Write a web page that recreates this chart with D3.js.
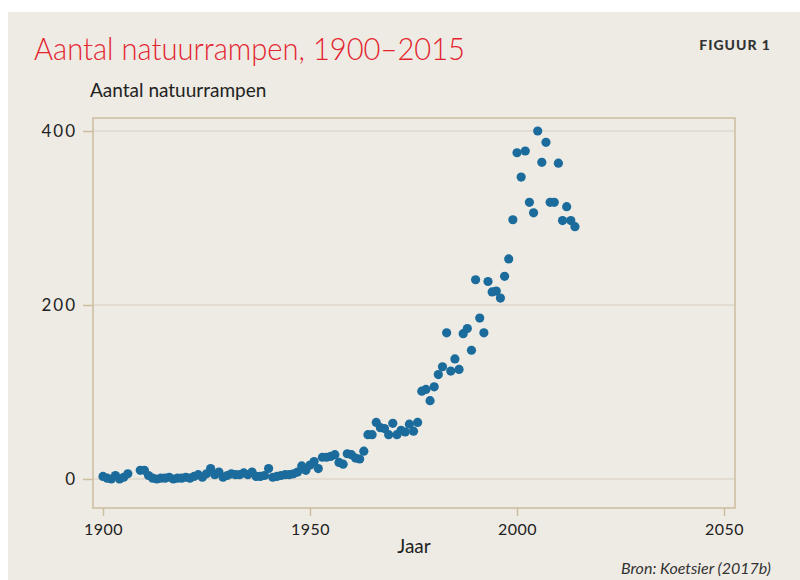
<!DOCTYPE html>
<html>
<head>
<meta charset="utf-8">
<script src="https://cdn.jsdelivr.net/npm/d3@7"></script>
<style>
  body { margin: 0; background: #fff; }
  svg { display: block; font-family: Lato, "Open Sans", sans-serif; }
</style>
</head>
<body>
<svg id="chart"></svg>
<script>
// Number of natural disasters per year, 1900-2014 (null = no point drawn)
const startYear = 1900;
const counts = [
  3, 1, 0, 4, 0, 2, 6, null, null, 10,        // 1900-1909
  10, 4, 1, 0, 1, 1, 2, 0, 1, 1,              // 1910-1919
  2, 1, 3, 5, 2, 6, 12, 5, 8, 2,              // 1920-1929
  4, 6, 5, 5, 7, 5, 8, 3, 3, 4,               // 1930-1939
  12, 2, 3, 4, 5, 5, 6, 8, 15, 10,            // 1940-1949
  16, 20, 12, 25, 25, 26, 28, 19, 17, 29,     // 1950-1959
  28, 24, 23, 32, 51, 51, 65, 59, 58, 51,     // 1960-1969
  64, 51, 56, 54, 63, 55, 65, 101, 103, 90,   // 1970-1979
  106, 120, 129, 168, 124, 138, 126, 167, 173, 148, // 1980-1989
  229, 185, 168, 227, 215, 216, 208, 233, 253, 298, // 1990-1999
  375, 347, 377, 318, 306, 400, 364, 387, 318, 318, // 2000-2009
  363, 297, 313, 297, 290                     // 2010-2014
];
const xTicks = [1900, 1950, 2000, 2050];
const yTicks = [0, 200, 400];

const width = 800, height = 580;
const frame = {left: 93, right: 735, top: 118, bottom: 508};

const data = counts
  .map((v, i) => ({year: startYear + i, value: v}))
  .filter(d => d.value !== null);

const x = d3.scaleLinear().domain([1900, 2050]).range([103, 724]);
const y = d3.scaleLinear().domain([0, 400]).range([479, 131]);

const svg = d3.select("#chart")
    .attr("width", width)
    .attr("height", height)
    .attr("viewBox", [0, 0, width, height]);

// beige panel
svg.append("rect")
    .attr("x", 8).attr("y", 12)
    .attr("width", width - 8).attr("height", height - 12)
    .attr("fill", "#eeebe4");

svg.append("text")
    .attr("x", 34).attr("y", 60)
    .attr("fill", "#e3242f")
    .attr("font-size", 31)
    .attr("font-weight", 300)
    .attr("textLength", 431)
    .attr("lengthAdjust", "spacingAndGlyphs")
    .text("Aantal natuurrampen, 1900–2015");

svg.append("text")
    .attr("x", 771).attr("y", 50)
    .attr("text-anchor", "end")
    .attr("fill", "#333")
    .attr("font-size", 14)
    .attr("font-weight", 900)
    .attr("letter-spacing", 1)
    .text("FIGUUR 1");

svg.append("text")
    .attr("x", 90).attr("y", 97)
    .attr("fill", "#222")
    .attr("font-size", 19)
    .text("Aantal natuurrampen");

// grid lines
svg.append("g")
  .selectAll("line")
  .data(yTicks)
  .join("line")
    .attr("x1", frame.left).attr("x2", frame.right)
    .attr("y1", d => y(d)).attr("y2", d => y(d))
    .attr("stroke", "#d6cebd")
    .attr("stroke-width", 1.2);

// frame
svg.append("rect")
    .attr("x", frame.left).attr("y", frame.top)
    .attr("width", frame.right - frame.left)
    .attr("height", frame.bottom - frame.top)
    .attr("fill", "none")
    .attr("stroke", "#cbbd9f")
    .attr("stroke-width", 1.5);

// y axis
const yAxis = d3.axisLeft(y).tickValues(yTicks).tickSize(10).tickPadding(6);
svg.append("g")
    .attr("transform", `translate(${frame.left},0)`)
    .call(yAxis)
    .call(g => g.select(".domain").remove())
    .call(g => g.selectAll(".tick line").attr("stroke", "#cbbd9f").attr("stroke-width", 1.5))
    .call(g => g.selectAll(".tick text")
        .attr("fill", "#222")
        .attr("font-size", 17)
        .attr("letter-spacing", 2)
        .attr("font-family", "Lato, sans-serif"));

// x axis
const xAxis = d3.axisBottom(x).tickValues(xTicks).tickFormat(d3.format("d")).tickSize(8).tickPadding(8);
svg.append("g")
    .attr("transform", `translate(0,${frame.bottom})`)
    .call(xAxis)
    .call(g => g.select(".domain").remove())
    .call(g => g.selectAll(".tick line").attr("stroke", "#cbbd9f").attr("stroke-width", 1.5))
    .call(g => g.selectAll(".tick text")
        .attr("fill", "#222")
        .attr("font-size", 16)
        .attr("letter-spacing", 0.5)
        .attr("font-family", "Lato, sans-serif"));

svg.append("text")
    .attr("x", (frame.left + frame.right) / 2).attr("y", 553)
    .attr("text-anchor", "middle")
    .attr("fill", "#222")
    .attr("font-size", 19)
    .text("Jaar");

svg.append("text")
    .attr("x", 771).attr("y", 574)
    .attr("text-anchor", "end")
    .attr("fill", "#333")
    .attr("font-size", 16)
    .attr("font-style", "italic")
    .text("Bron: Koetsier (2017b)");

// dots
svg.append("g")
    .attr("fill", "#1b6c9c")
  .selectAll("circle")
  .data(data)
  .join("circle")
    .attr("cx", d => x(d.year))
    .attr("cy", d => y(d.value))
    .attr("r", 4.6);
</script>
</body>
</html>
